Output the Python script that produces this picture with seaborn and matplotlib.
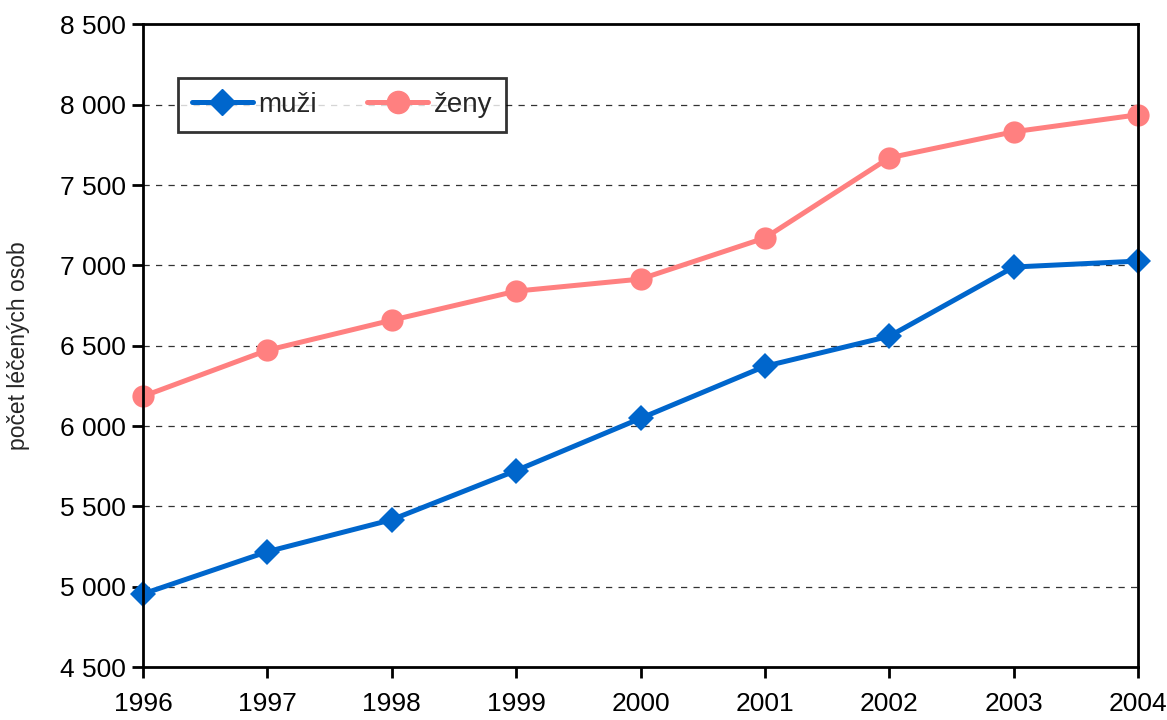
import numpy as np
import pandas as pd
import matplotlib
matplotlib.use('Agg')
import matplotlib.pyplot as plt
import seaborn as sns
from matplotlib.lines import Line2D

years = [1996, 1997, 1998, 1999, 2000, 2001, 2002, 2003, 2004]
muzi = [4955, 5218, 5417, 5723, 6048, 6372, 6559, 6990, 7027]
zeny = [6185, 6472, 6659, 6840, 6915, 7171, 7670, 7832, 7938]
series_names = ['muži', 'ženy']
colors = ['#0066CC', '#FF8080']
y_ticks = [4500, 5000, 5500, 6000, 6500, 7000, 7500, 8000, 8500]

df = pd.DataFrame({
    'rok': years * 2,
    'pocet': muzi + zeny,
    'pohlavi': [series_names[0]] * len(years) + [series_names[1]] * len(years),
})

sns.set_style('white')
plt.rcParams['font.family'] = ['Liberation Sans', 'DejaVu Sans']

fig = plt.figure(figsize=(11.67, 7.2), dpi=100)
ax = fig.add_axes([0.1225, 0.0736, 0.8527, 0.8924])

sns.lineplot(data=df, x='rok', y='pocet', hue='pohlavi', style='pohlavi',
             markers={'muži': 'D', 'ženy': 'o'}, dashes=False,
             palette=dict(zip(series_names, colors)), linewidth=3.6,
             markeredgewidth=0, ax=ax, legend=False)
for line, ms in zip(ax.lines, [13, 16]):
    line.set_markersize(ms)
    line.set_clip_on(False)

ax.set_xlim(years[0], years[-1])
ax.set_ylim(y_ticks[0], y_ticks[-1])
ax.set_xticks(years)
ax.set_yticks(y_ticks)
ax.set_yticklabels([f'{v:,}'.replace(',', ' ') for v in y_ticks])
ax.set_xlabel('')
ax.set_ylabel('počet léčených osob', fontsize=16.5, labelpad=22)

for v in y_ticks[1:-1]:
    ax.axhline(v, color='#333333', linestyle=(0, (5, 5)), linewidth=0.9, zorder=0)

for s in ax.spines.values():
    s.set_visible(True)
    s.set_color('black')
    s.set_linewidth(2)
ax.tick_params(axis='both', direction='out', length=8, width=2, labelsize=19,
               color='black', labelcolor='black', left=True, bottom=True)
ax.tick_params(axis='x', pad=10)
ax.tick_params(axis='y', pad=4)

handles = [Line2D([], [], color=colors[0], marker='D', markersize=13, linewidth=3.6),
           Line2D([], [], color=colors[1], marker='o', markersize=16, linewidth=3.6)]
leg = ax.legend(handles, series_names, ncol=2, loc='upper left',
                bbox_to_anchor=(0.035, 0.917), borderaxespad=0,
                frameon=True, fancybox=False, edgecolor='black', fontsize=20,
                handlelength=2.2, columnspacing=1.8, handletextpad=0.2,
                borderpad=0.5)
leg.get_frame().set_linewidth(2)

fig.savefig('out.png', dpi=100)
